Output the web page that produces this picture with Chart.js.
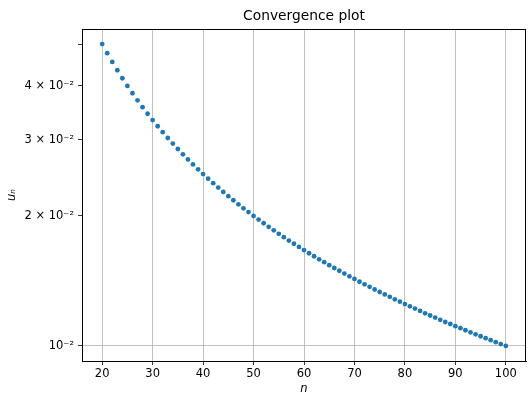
<!DOCTYPE html>
<html lang="en">
<head>
    <meta charset="UTF-8">
    <title>Convergence plot</title>
    <style>
        body {
            margin: 0;
            background-color: #ffffff;
        }
        canvas {
            display: block;
        }
    </style>
    <script src="https://cdn.jsdelivr.net/npm/chart.js"></script>
</head>
<body>
    <canvas id="myChart" width="530" height="403"></canvas>

    <script>
        // n values and u_n
        const nValues = [
            20, 21, 22, 23, 24, 25, 26, 27, 28, 29,
            30, 31, 32, 33, 34, 35, 36, 37, 38, 39,
            40, 41, 42, 43, 44, 45, 46, 47, 48, 49,
            50, 51, 52, 53, 54, 55, 56, 57, 58, 59,
            60, 61, 62, 63, 64, 65, 66, 67, 68, 69,
            70, 71, 72, 73, 74, 75, 76, 77, 78, 79,
            80, 81, 82, 83, 84, 85, 86, 87, 88, 89,
            90, 91, 92, 93, 94, 95, 96, 97, 98, 99,
            100
        ];
        const uValues = [
            0.05, 0.04762, 0.04545, 0.04348, 0.04167, 0.04, 0.03846, 0.03704, 0.03571, 0.03448,
            0.03333, 0.03226, 0.03125, 0.0303, 0.02941, 0.02857, 0.02778, 0.02703, 0.02632, 0.02564,
            0.025, 0.02439, 0.02381, 0.02326, 0.02273, 0.02222, 0.02174, 0.02128, 0.02083, 0.02041,
            0.02, 0.01961, 0.01923, 0.01887, 0.01852, 0.01818, 0.01786, 0.01754, 0.01724, 0.01695,
            0.01667, 0.01639, 0.01613, 0.01587, 0.01563, 0.01538, 0.01515, 0.01493, 0.01471, 0.01449,
            0.01429, 0.01408, 0.01389, 0.0137, 0.01351, 0.01333, 0.01316, 0.01299, 0.01282, 0.01266,
            0.0125, 0.01235, 0.0122, 0.01205, 0.0119, 0.01176, 0.01163, 0.01149, 0.01136, 0.01124,
            0.01111, 0.01099, 0.01087, 0.01075, 0.01064, 0.01053, 0.01042, 0.01031, 0.0102, 0.0101,
            0.01
        ];

        // axis ticks
        const xTicks = [20, 30, 40, 50, 60, 70, 80, 90, 100];
        const yTicks = [0.01, 0.02, 0.03, 0.04, 0.05];
        const yTickLabels = ['10\u207B\u00B2', '2 \u00D7 10\u207B\u00B2', '3 \u00D7 10\u207B\u00B2', '4 \u00D7 10\u207B\u00B2', ''];

        const fontFamily = "'DejaVu Sans', sans-serif";

        // frame on all four sides + title
        const framePlugin = {
            id: 'frame',
            afterDraw(chart) {
                const ctx = chart.ctx;
                const a = chart.chartArea;
                ctx.save();
                ctx.strokeStyle = '#000';
                ctx.lineWidth = 1;
                ctx.strokeRect(Math.round(a.left) + 0.5, Math.round(a.top) + 0.5,
                    Math.round(a.right - a.left) - 1, Math.round(a.bottom - a.top));
                ctx.fillStyle = '#000';
                ctx.font = "13.8px " + fontFamily;
                ctx.textAlign = 'center';
                ctx.textBaseline = 'alphabetic';
                ctx.fillText('Convergence plot', (a.left + a.right) / 2, 20);
                ctx.restore();
            }
        };

        const ctx = document.getElementById('myChart').getContext('2d');
        new Chart(ctx, {
            type: 'scatter',
            data: {
                datasets: [{
                    label: 'u_n',
                    data: nValues.map((n, i) => ({ x: n, y: uValues[i] })),
                    backgroundColor: '#1f77b4',
                    borderColor: '#1f77b4',
                    pointRadius: 2.4,
                    pointBorderWidth: 0
                }]
            },
            options: {
                responsive: false,
                animation: false,
                layout: {
                    padding: { top: 29, right: 2, left: 0, bottom: 0 }
                },
                plugins: {
                    legend: { display: false },
                    title: { display: false },
                    tooltip: { enabled: false }
                },
                scales: {
                    x: {
                        type: 'linear',
                        min: 16,
                        max: 104,
                        afterBuildTicks: scale => {
                            scale.ticks = xTicks.map(v => ({ value: v }));
                        },
                        afterFit: scale => {
                            scale.height = 42;
                        },
                        ticks: {
                            color: '#000',
                            padding: 2,
                            maxRotation: 0,
                            autoSkip: false,
                            font: { family: fontFamily, size: 11.5 },
                            callback: v => String(v)
                        },
                        grid: {
                            color: '#b0b0b0',
                            lineWidth: 0.8,
                            tickColor: '#000',
                            tickLength: 4
                        },
                        border: { color: '#000', width: 1 },
                        title: {
                            display: true,
                            text: 'n',
                            color: '#000',
                            padding: { top: 0, bottom: 7 },
                            font: { family: fontFamily, size: 11.5, style: 'italic' }
                        }
                    },
                    y: {
                        type: 'logarithmic',
                        min: 0.009227,
                        max: 0.05418,
                        afterBuildTicks: scale => {
                            scale.ticks = yTicks.map(v => ({ value: v }));
                        },
                        afterFit: scale => {
                            scale.width = 82;
                        },
                        ticks: {
                            color: '#000',
                            padding: 4,
                            autoSkip: false,
                            font: { family: fontFamily, size: 11.5 },
                            callback: (v, i) => yTickLabels[yTicks.indexOf(v)] ?? ''
                        },
                        grid: {
                            color: c => (c.tick && c.tick.value === 0.01) ? '#b0b0b0' : 'rgba(0,0,0,0)',
                            lineWidth: 0.8,
                            tickColor: '#000',
                            tickLength: 4
                        },
                        border: { color: '#000', width: 1 },
                        title: {
                            display: true,
                            text: 'u\u2099',
                            color: '#000',
                            padding: { top: 5, bottom: 0 },
                            font: { family: fontFamily, size: 11.5, style: 'italic' }
                        }
                    }
                }
            },
            plugins: [framePlugin]
        });
    </script>
</body>
</html>
